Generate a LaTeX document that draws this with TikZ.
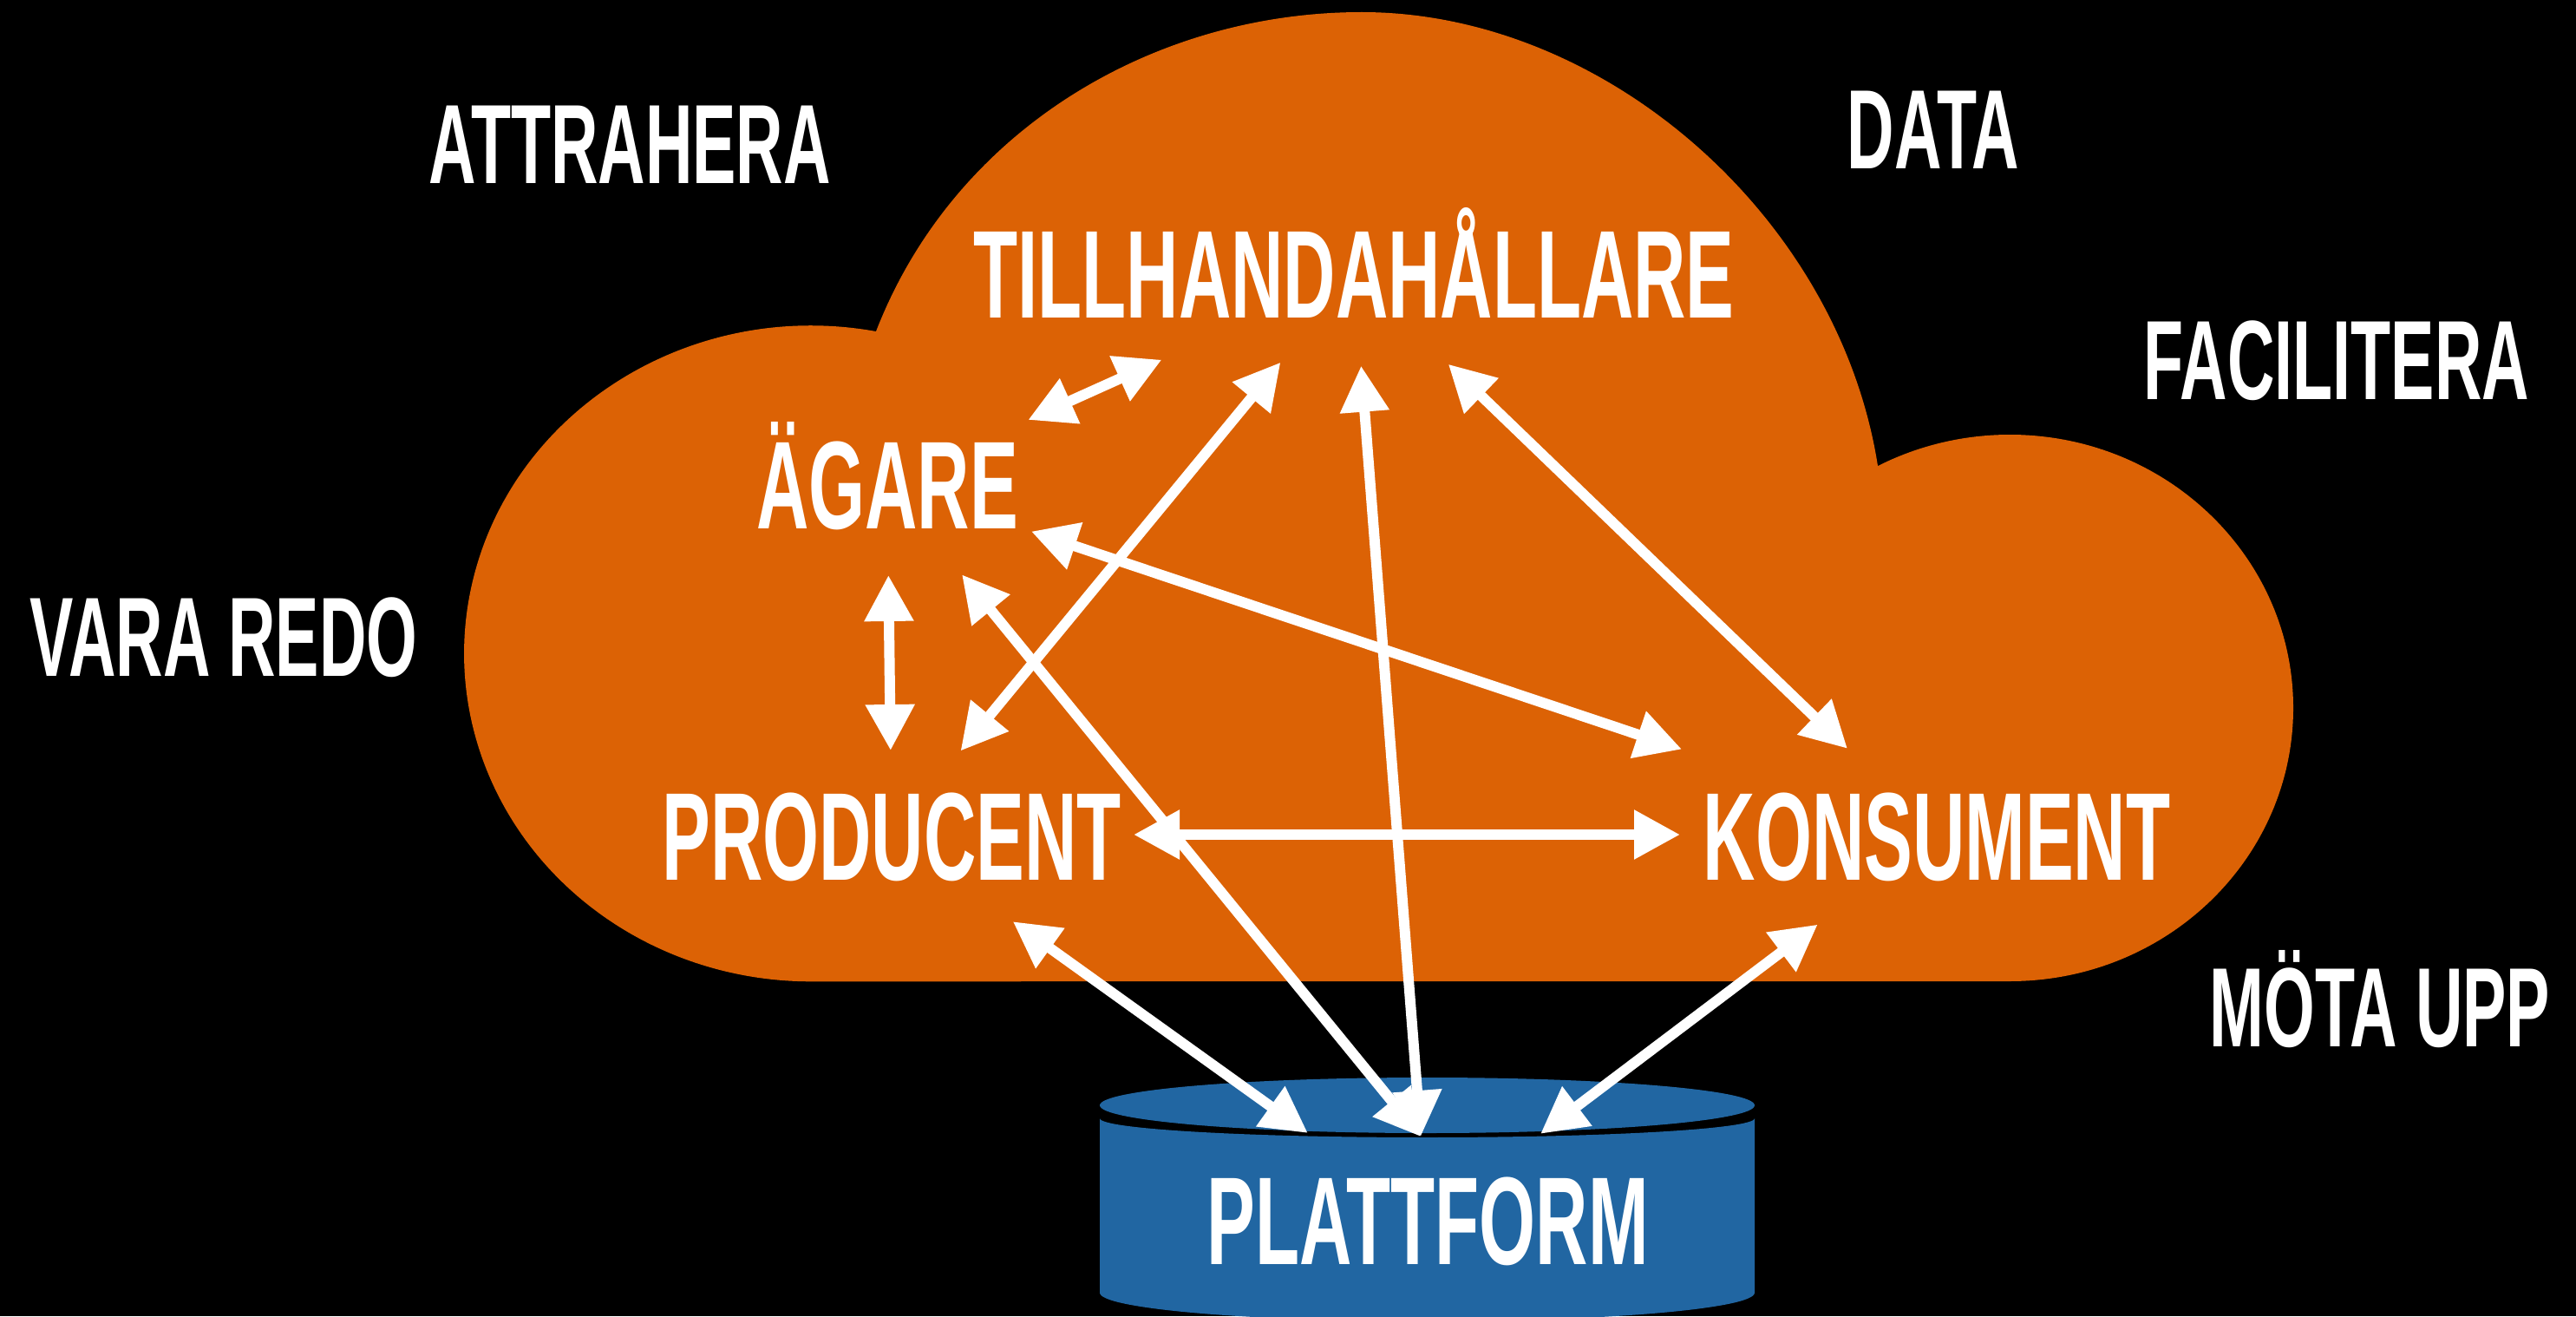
\documentclass[tikz,border=0pt]{standalone}
\usepackage{fontspec}
\usepackage{tikz}
\usetikzlibrary{arrows.meta}
\newfontfamily\dinfont[FakeStretch=0.58]{Liberation Sans}
\definecolor{cloudorange}{RGB}{220,98,5}
\definecolor{platformblue}{RGB}{33,102,162}
\tikzstyle{actor} = [text=white, font=\dinfont\bfseries\fontsize{41}{41}\selectfont, text height=1.04cm, text depth=0pt, inner sep=0pt]
\tikzstyle{goal} = [text=white, font=\dinfont\bfseries\fontsize{37}{37}\selectfont, text height=0.93cm, text depth=0pt, inner sep=0pt]
\tikzstyle{arrow} = [white, line width=1.2mm, <->, >={Triangle[length=5.3mm, width=5.4mm]}]

\begin{document}
\begin{tikzpicture}
\useasboundingbox (0,0) rectangle (29.70,15.17);
\fill[black] (0,0) rectangle (29.70,15.17);
% cloud
\fill[cloudorange] (10.10,11.35) arc[start angle=79.2, end angle=270, x radius=4, y radius=3.78]
  -- (23.17,3.86) arc[start angle=-90, end angle=117.7, x radius=3.27, y radius=3.15]
  .. controls (21.20,12.67) and (18.50,15.03) .. (15.70,15.03)
  .. controls (13.30,15.03) and (11.00,13.67) .. (10.10,11.35) -- cycle;
% platform
\fill[platformblue] (12.68,2.28) -- (12.68,0.27) arc[start angle=180, end angle=360, x radius=3.775, y radius=0.33]
  -- (20.23,2.28) arc[start angle=0, end angle=-180, x radius=3.775, y radius=0.22] -- cycle;
\fill[platformblue] (16.455,2.43) ellipse [x radius=3.775, y radius=0.32];

\node (tillh) [actor] at (15.61,12.02) {TILLHANDAHÅLLARE};
\node (agare) [actor] at (10.23,9.60) {ÄGARE};
\node (producent) [actor] at (10.28,5.55) {PRODUCENT};
\node (konsument) [actor] at (22.33,5.55) {KONSUMENT};
\node (plattform) [actor] at (16.46,1.12) {PLATTFORM};
\coordinate (topp) at (16.38,2.07);
\node (attrahera) [goal] at (7.26,13.52) {ATTRAHERA};
\node (data) [goal] at (22.29,13.69) {DATA};
\node (facilitera) [goal] at (26.94,11.03) {FACILITERA};
\node (varaRedo) [goal] at (2.58,7.84) {VARA REDO};
\node (motaUpp) [goal] at (27.44,3.57) {MÖTA UPP};

\draw [arrow, shorten <=1.78cm, shorten >=2.43cm] (agare.center) -- (tillh.center);
\draw [arrow, shorten <=1.06cm, shorten >=0.97cm] (agare.center) -- (producent.center);
\draw [arrow, shorten <=1.25cm, shorten >=1.33cm] (producent.center) -- (tillh.center);
\draw [arrow, shorten <=1.07cm] (tillh.center) -- (topp);
\draw [arrow, shorten <=1.51cm, shorten >=1.43cm] (tillh.center) -- (konsument.center);
\draw [arrow, shorten <=1.75cm, shorten >=3.10cm] (agare.center) -- (konsument.center);
\draw [arrow, shorten <=1.36cm] (agare.center) -- (topp);
\draw [arrow, shorten <=2.79cm, shorten >=2.96cm] (producent.center) -- (konsument.center);
\draw [arrow, shorten <=1.72cm, shorten >=1.70cm] (producent.center) -- (plattform.center);
\draw [arrow, shorten <=1.72cm, shorten >=1.63cm] (konsument.center) -- (plattform.center);
\end{tikzpicture}
\end{document}
